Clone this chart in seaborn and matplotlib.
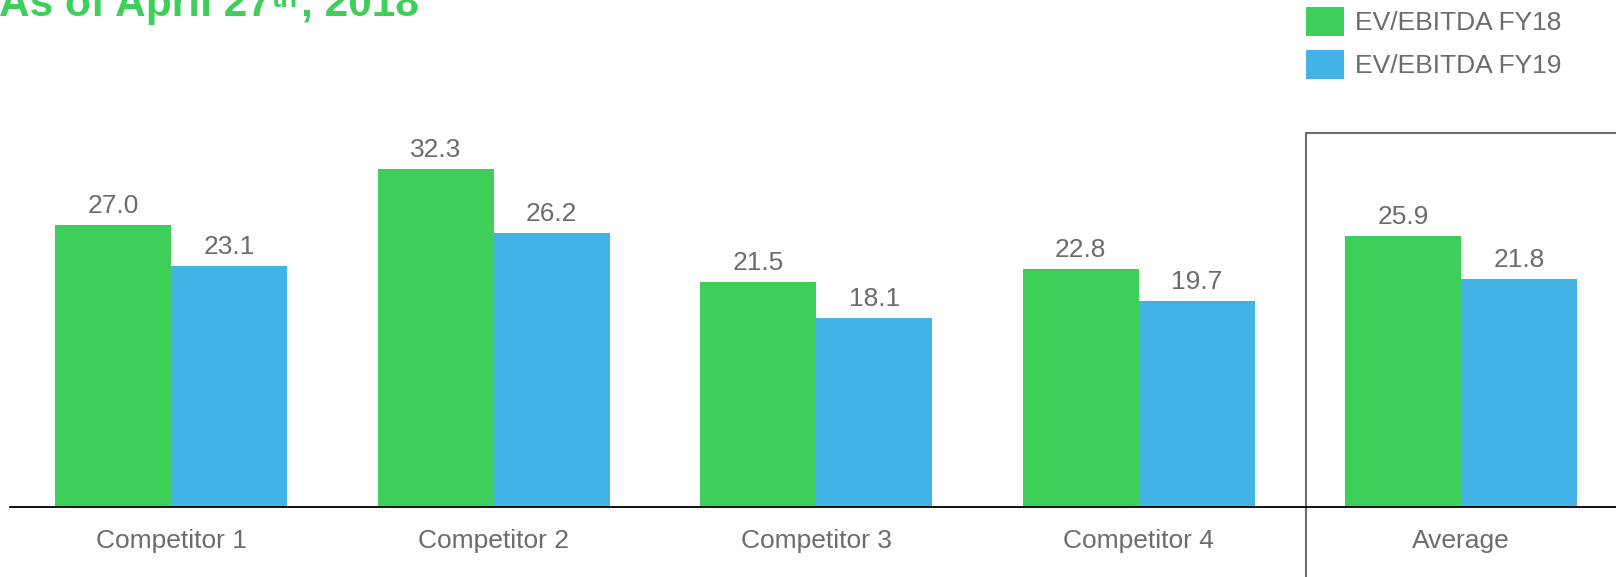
import matplotlib
matplotlib.use("Agg")
import matplotlib.pyplot as plt
import seaborn as sns
import pandas as pd
from matplotlib.patches import Patch

categories = ["Competitor 1", "Competitor 2", "Competitor 3", "Competitor 4", "Average"]
series_names = ["EV/EBITDA FY18", "EV/EBITDA FY19"]
fy18 = [27.0, 32.3, 21.5, 22.8, 25.9]
fy19 = [23.1, 26.2, 18.1, 19.7, 21.8]
title_parts = ["As of April 27", "th", ", 2018"]

GREEN = "#3ECF5A"
BLUE = "#43B3E5"
GRAY = "#6b6b70"

df = pd.DataFrame({
    "category": categories * 2,
    "series": [series_names[0]] * len(categories) + [series_names[1]] * len(categories),
    "value": fy18 + fy19,
})

sns.set_theme(style="white")
plt.rcParams["font.family"] = ["Liberation Sans", "DejaVu Sans"]

W, H = 1616, 577
fig = plt.figure(figsize=(W / 100, H / 100), dpi=100)
ax = fig.add_axes([10 / W, 70 / H, 1606 / W, 507 / H])

sns.barplot(data=df, x="category", y="value", hue="series", order=categories,
            hue_order=series_names, palette=[GREEN, BLUE], width=0.72, gap=0,
            saturation=1, ax=ax, legend=False, linewidth=0, edgecolor="none")

ax.set_xlim(-0.5, 4.48)
ax.set_ylim(0, 48.5)
for c in ax.containers:
    ax.bar_label(c, fmt="%.1f", padding=5, fontsize=19, color=GRAY)

for s in ["top", "right", "left"]:
    ax.spines[s].set_visible(False)
ax.spines["bottom"].set_color("black")
ax.spines["bottom"].set_linewidth(1.3)
ax.set_yticks([])
ax.set_xlabel("")
ax.set_ylabel("")
ax.tick_params(axis="x", length=0, pad=16, labelsize=19, labelcolor=GRAY)

# separator box around Average
sep_x = 3.52
top_y = 35.8
ax.plot([sep_x, sep_x], [top_y, -8], color=GRAY, lw=1.5, clip_on=False)
ax.plot([sep_x, 4.6], [top_y, top_y], color=GRAY, lw=1.5, clip_on=False)

handles = [Patch(facecolor=GREEN, edgecolor="none"), Patch(facecolor=BLUE, edgecolor="none")]
fig.legend(handles, series_names, loc="upper left", bbox_to_anchor=(1306 / W, 1 - 7 / H),
           frameon=False, fontsize=19, labelcolor=GRAY, handlelength=1.44, handleheight=1.32,
           handletextpad=0.42, labelspacing=0.52, borderpad=0, borderaxespad=0)

# title, partially cut at the top edge as in the reference
renderer = fig.canvas.get_renderer()
base_y = 1 - 16 / H
t1 = fig.text(-1 / W, base_y, title_parts[0], color=GREEN, fontsize=30.5,
              fontweight="bold", ha="left", va="baseline")
x1 = t1.get_window_extent(renderer).x1 / W
t2 = fig.text(x1 + 1 / W, 1 - 7 / H, title_parts[1], color=GREEN, fontsize=20,
              fontweight="bold", ha="left", va="baseline")
x2 = t2.get_window_extent(renderer).x1 / W
fig.text(x2 + 3 / W, base_y, title_parts[2], color=GREEN, fontsize=30.5,
         fontweight="bold", ha="left", va="baseline")

fig.savefig("out.png", dpi=100)
